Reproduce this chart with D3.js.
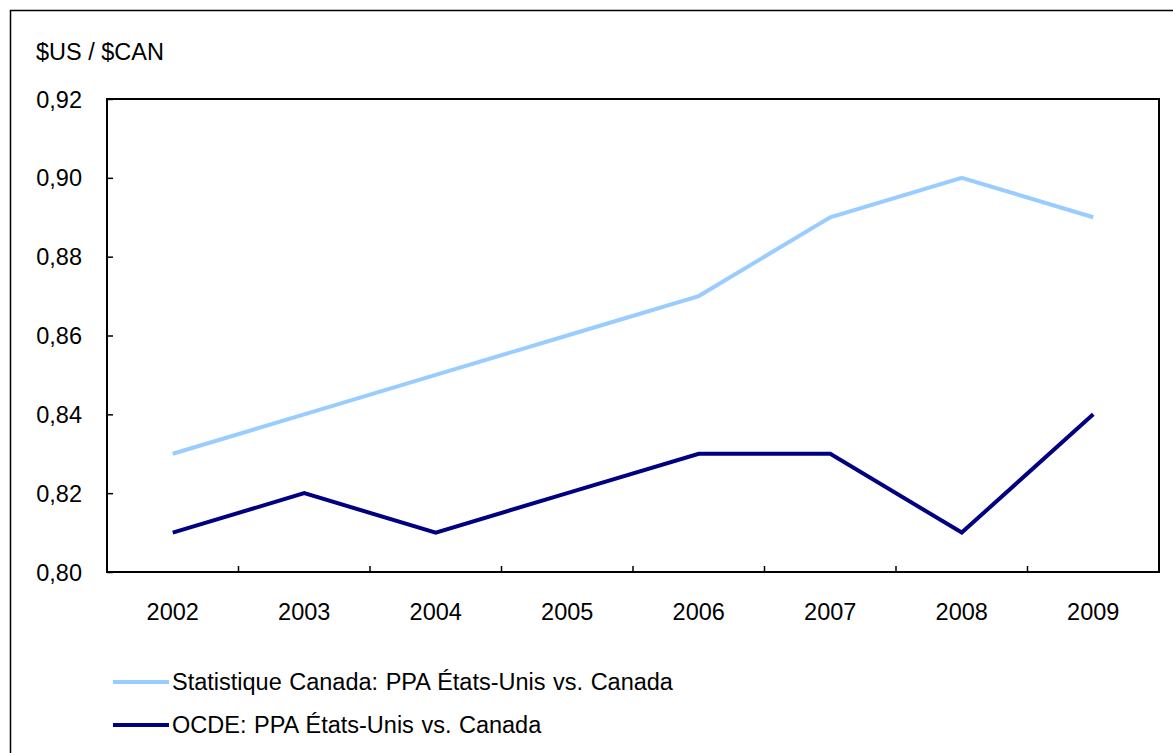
<!DOCTYPE html>
<html><head><meta charset="utf-8">
<script src="https://cdn.jsdelivr.net/npm/d3@7"></script>
<style>body{margin:0;background:#fff;}svg{display:block;font-family:Arial,"Liberation Sans",sans-serif;}</style>
</head><body>
<svg id="c" width="1173" height="753"></svg>
<script>
const years = ["2002","2003","2004","2005","2006","2007","2008","2009"];
const statCan = [0.83,0.84,0.85,0.86,0.87,0.89,0.90,0.89];
const ocde = [0.81,0.82,0.81,0.82,0.83,0.83,0.81,0.84];
const yTicks = [0.80,0.82,0.84,0.86,0.88,0.90,0.92];
const seriesNames = ["Statistique Canada: PPA États-Unis vs. Canada","OCDE: PPA États-Unis vs. Canada"];
const seriesColors = ["#99CCFF","#000080"];
const yTitle = "$US / $CAN";

const svg = d3.select("#c");
const L=107,R=1159,T=99,B=572;
const FS = 23.5;
// outer frame (extends beyond image right/bottom)
svg.append("rect").attr("x",10.5).attr("y",10.5).attr("width",1200).attr("height",800)
  .attr("fill","none").attr("stroke","#000").attr("stroke-width",1.5);

const x = d3.scaleBand().domain(years).range([L,R]).padding(0);
const y = d3.scaleLinear().domain([0.80,0.92]).range([B,T]);

svg.append("text").attr("x",36).attr("y",60).attr("font-size",FS).attr("fill","#000").text(yTitle);

const fmt = d => d3.format(".2f")(d).replace(".",",");
const yAx = svg.append("g").attr("transform",`translate(${L},0)`)
  .call(d3.axisRight(y).tickValues(yTicks).tickSize(6).tickFormat(""));
yAx.select(".domain").remove();
yAx.selectAll("line").attr("stroke","#000").attr("stroke-width",1.5);
svg.append("g").selectAll("text").data(yTicks).join("text")
  .attr("x",82).attr("y",d=>y(d)+8.5).attr("text-anchor","end").attr("font-size",FS).text(fmt);

const bounds = years.slice(1).map(d=>x(d));
svg.append("g").selectAll("line").data(bounds).join("line")
  .attr("x1",d=>d).attr("x2",d=>d).attr("y1",B).attr("y2",B-6)
  .attr("stroke","#000").attr("stroke-width",1.5);
svg.append("g").selectAll("text").data(years).join("text")
  .attr("x",d=>x(d)+x.bandwidth()/2).attr("y",620).attr("text-anchor","middle")
  .attr("font-size",FS).text(d=>d);

const line = d3.line().x((d,i)=>x(years[i])+x.bandwidth()/2).y(d=>y(d));
[statCan,ocde].forEach((s,k)=>{
  svg.append("path").datum(s).attr("d",line).attr("fill","none")
    .attr("stroke",seriesColors[k]).attr("stroke-width",4).attr("stroke-linejoin","miter");
});

svg.append("rect").attr("x",L).attr("y",T).attr("width",R-L).attr("height",B-T)
  .attr("fill","none").attr("stroke","#000").attr("stroke-width",2);

const lg = svg.append("g");
seriesNames.forEach((n,k)=>{
  const yy = 682 + k*43;
  lg.append("line").attr("x1",113).attr("x2",169).attr("y1",yy).attr("y2",yy)
    .attr("stroke",seriesColors[k]).attr("stroke-width",4);
  lg.append("text").attr("x",172).attr("y",yy+8).attr("font-size",FS).attr("word-spacing",1).text(n);
});
</script>
</body></html>
